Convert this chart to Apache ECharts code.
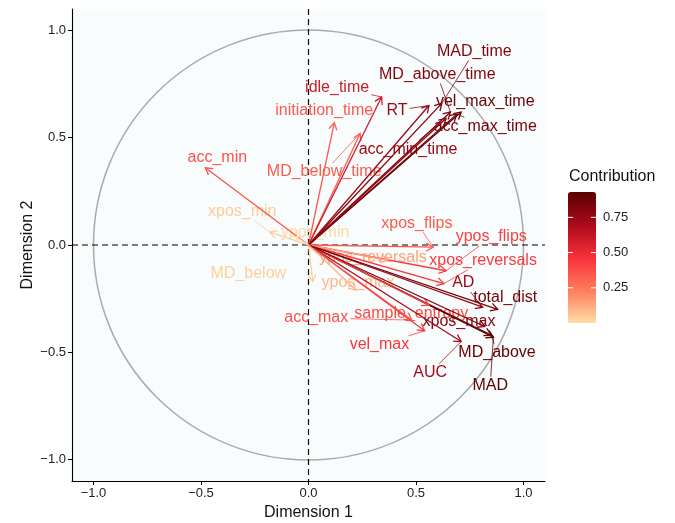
<!DOCTYPE html>
<html>
<head>
<meta charset="utf-8">
<script src="https://cdn.jsdelivr.net/npm/echarts@6/dist/echarts.min.js"></script>
<style>
  html, body { margin: 0; background: #fff; }
  #chart { width: 675px; height: 523px; }
</style>
</head>
<body>
<div id="chart"></div>
<script>
// Variables of the PCA (correlation circle)
const varNames = ['MAD', 'MAD_time', 'MD_above', 'MD_above_time', 'MD_below', 'MD_below_time',
  'AD', 'AUC', 'xpos_flips', 'ypos_flips', 'xpos_reversals', 'ypos_reversals', 'RT',
  'initiation_time', 'idle_time', 'total_dist', 'vel_max', 'vel_max_time', 'acc_max',
  'acc_max_time', 'acc_min', 'acc_min_time', 'sample_entropy', 'xpos_max', 'xpos_min',
  'ypos_max', 'ypos_min'];
const dim1 = [0.86, 0.62, 0.85, 0.66, 0.02, 0.24,
  0.81, 0.71, 0.58, 0.64, 0.63, 0.37, 0.56,
  0.12, 0.34, 0.88, 0.54, 0.71, 0.48,
  0.69, -0.48, 0.64, 0.56, 0.82, -0.18,
  0.22, -0.06];
const dim2 = [-0.43, 0.66, -0.42, 0.62, -0.17, 0.52,
  -0.29, -0.45, -0.01, -0.12, -0.18, -0.07, 0.65,
  0.57, 0.69, -0.30, -0.40, 0.62, -0.35,
  0.61, 0.36, 0.59, -0.28, -0.38, 0.06,
  -0.21, 0.04];
const contrib = [0.92, 0.82, 0.90, 0.82, 0.03, 0.33,
  0.74, 0.70, 0.34, 0.42, 0.43, 0.14, 0.74,
  0.34, 0.59, 0.86, 0.45, 0.89, 0.36,
  0.85, 0.36, 0.76, 0.39, 0.81, 0.04,
  0.09, 0.01];
const axisTicks = [-1, -0.5, 0, 0.5, 1];
const legendTicks = [0.25, 0.5, 0.75];

// where the repelled labels ended up (data units)
const labelAt = {
  MAD_time: [0.771, 0.902], MD_above_time: [0.599, 0.795], vel_max_time: [0.822, 0.670],
  RT: [0.412, 0.628], acc_max_time: [0.822, 0.553], idle_time: [0.133, 0.735],
  initiation_time: [0.073, 0.628], acc_min_time: [0.463, 0.447], MD_below_time: [0.073, 0.340],
  acc_min: [-0.424, 0.409], xpos_min: [-0.308, 0.158], ypos_min: [0.031, 0.056],
  xpos_flips: [0.504, 0.102], ypos_flips: [0.85, 0.037], xpos_reversals: [0.812, -0.074],
  ypos_reversals: [0.30, -0.06], MD_below: [-0.28, -0.135], ypos_max: [0.23, -0.177],
  AD: [0.72, -0.177], total_dist: [0.915, -0.247], acc_max: [0.036, -0.34],
  sample_entropy: [0.478, -0.321], xpos_max: [0.70, -0.358], vel_max: [0.33, -0.465],
  MD_above: [0.877, -0.502], AUC: [0.566, -0.595], MAD: [0.845, -0.656]
};
// labels drawn without a leader segment
const noSegment = ['MD_below'];

const FONT = '"Liberation Sans", Arial, Helvetica, sans-serif';
const cMin = 0, cMax = 0.93;
const bar = { left: 568, top: 192, width: 28, height: 131 };
const gradient = ['#FFDCA6', '#FF7C5C', '#F8303A', '#AA0A1A', '#5A0000'];

const measure = document.createElement('canvas').getContext('2d');
measure.font = '16px ' + FONT;

const points = varNames.map((n, i) => [dim1[i], dim2[i], contrib[i], i]);

function minusFmt(v) {
  return (v < 0 ? '\u2212' : '') + Math.abs(v).toFixed(1);
}

// circle of radius 1 plus the dashed zero lines
function renderFrame(params, api) {
  const cs = params.coordSys;
  const o = api.coord([0, 0]);
  const r = api.coord([1, 0])[0] - o[0];
  const dash = { stroke: '#000', lineWidth: 1.2, lineDash: [6, 4] };
  return {
    type: 'group',
    children: [
      { type: 'circle', shape: { cx: o[0], cy: o[1], r: r }, style: { stroke: '#ABABAB', lineWidth: 1.5, fill: null } },
      { type: 'line', shape: { x1: cs.x, y1: o[1], x2: cs.x + cs.width, y2: o[1] }, style: dash },
      { type: 'line', shape: { x1: o[0], y1: cs.y, x2: o[0], y2: cs.y + cs.height }, style: dash }
    ]
  };
}

function renderArrow(params, api) {
  const o = api.coord([0, 0]);
  const p = api.coord([api.value(0), api.value(1)]);
  const color = api.visual('color');
  const ang = Math.atan2(p[1] - o[1], p[0] - o[0]);
  const L = 8, A = Math.PI / 6;
  const h1 = [p[0] - L * Math.cos(ang - A), p[1] - L * Math.sin(ang - A)];
  const h2 = [p[0] - L * Math.cos(ang + A), p[1] - L * Math.sin(ang + A)];
  return {
    type: 'group',
    children: [
      { type: 'line', shape: { x1: o[0], y1: o[1], x2: p[0], y2: p[1] }, style: { stroke: color, lineWidth: 1.3 } },
      { type: 'polyline', shape: { points: [h1, p, h2] }, style: { stroke: color, lineWidth: 1.3, fill: null } }
    ]
  };
}

function renderLabel(params, api) {
  const name = varNames[api.value(3)];
  const p = api.coord([api.value(0), api.value(1)]);
  const lp = api.coord(labelAt[name]);
  const color = api.visual('color');
  const w = measure.measureText(name).width;
  const children = [{
    type: 'text', x: lp[0], y: lp[1],
    style: { text: name, fill: color, font: '16px ' + FONT, align: 'center', verticalAlign: 'middle' }
  }];
  // leader segment from the label box to its arrow tip
  const dx = p[0] - lp[0], dy = p[1] - lp[1];
  const hw = w / 2 + 2, hh = 9;
  const t = Math.min(dx ? hw / Math.abs(dx) : Infinity, dy ? hh / Math.abs(dy) : Infinity);
  if (t < 1 && noSegment.indexOf(name) < 0) {
    const s = [lp[0] + dx * t, lp[1] + dy * t];
    if (Math.hypot(p[0] - s[0], p[1] - s[1]) > 8) {
      children.push({ type: 'line', shape: { x1: s[0], y1: s[1], x2: p[0], y2: p[1] }, style: { stroke: color, lineWidth: 0.8 } });
    }
  }
  return { type: 'group', children: children };
}

const axisCommon = {
  type: 'value', min: -1.1, max: 1.1,
  splitLine: { show: false },
  axisLine: { show: true, onZero: false, lineStyle: { color: '#000', width: 1.1 } },
  axisTick: { show: true, customValues: axisTicks, length: 4, lineStyle: { color: '#000' } },
  axisLabel: { customValues: axisTicks, formatter: minusFmt, color: '#222', fontSize: 13, fontFamily: FONT, margin: 6 },
  nameLocation: 'middle',
  nameTextStyle: { fontSize: 16, color: '#111', fontFamily: FONT }
};

// colour bar ticks and labels, placed with the same scale as the bar
const legendGraphics = [{
  type: 'text', left: 569, top: 169,
  style: { text: 'Contribution', font: '16px ' + FONT, fill: '#111' }
}];
legendTicks.forEach(v => {
  const y = bar.top + (cMax - v) / (cMax - cMin) * bar.height;
  legendGraphics.push(
    { type: 'line', shape: { x1: bar.left, y1: y, x2: bar.left + 5, y2: y }, style: { stroke: '#fff', lineWidth: 1 }, z: 100 },
    { type: 'line', shape: { x1: bar.left + bar.width - 5, y1: y, x2: bar.left + bar.width, y2: y }, style: { stroke: '#fff', lineWidth: 1 }, z: 100 },
    { type: 'text', x: bar.left + bar.width + 7, y: y, style: { text: v.toFixed(2), font: '13px ' + FONT, fill: '#222', verticalAlign: 'middle' } }
  );
});

const chart = echarts.init(document.getElementById('chart'));
chart.setOption({
  animation: false,
  grid: {
    left: 72, top: 9, width: 473, height: 472, outerBoundsMode: 'none', containLabel: false,
    show: true, backgroundColor: '#F8FCFD', borderWidth: 0
  },
  xAxis: Object.assign({}, axisCommon, { name: 'Dimension 1', nameGap: 22 }),
  yAxis: Object.assign({}, axisCommon, { name: 'Dimension 2', nameGap: 36, nameMoveOverlap: false }),
  visualMap: {
    type: 'continuous', min: cMin, max: cMax, dimension: 2, seriesIndex: [1, 2],
    orient: 'vertical', left: bar.left, top: bar.top, itemWidth: bar.width, itemHeight: bar.height,
    padding: 0, calculable: false, hoverLink: false,
    inRange: { color: gradient }
  },
  graphic: legendGraphics,
  series: [
    { type: 'custom', renderItem: renderFrame, data: [[0, 0]], z: 1, silent: true },
    { type: 'custom', renderItem: renderLabel, data: points, z: 2, silent: true },
    { type: 'custom', renderItem: renderArrow, data: points, z: 3, silent: true }
  ]
});
</script>
</body>
</html>
